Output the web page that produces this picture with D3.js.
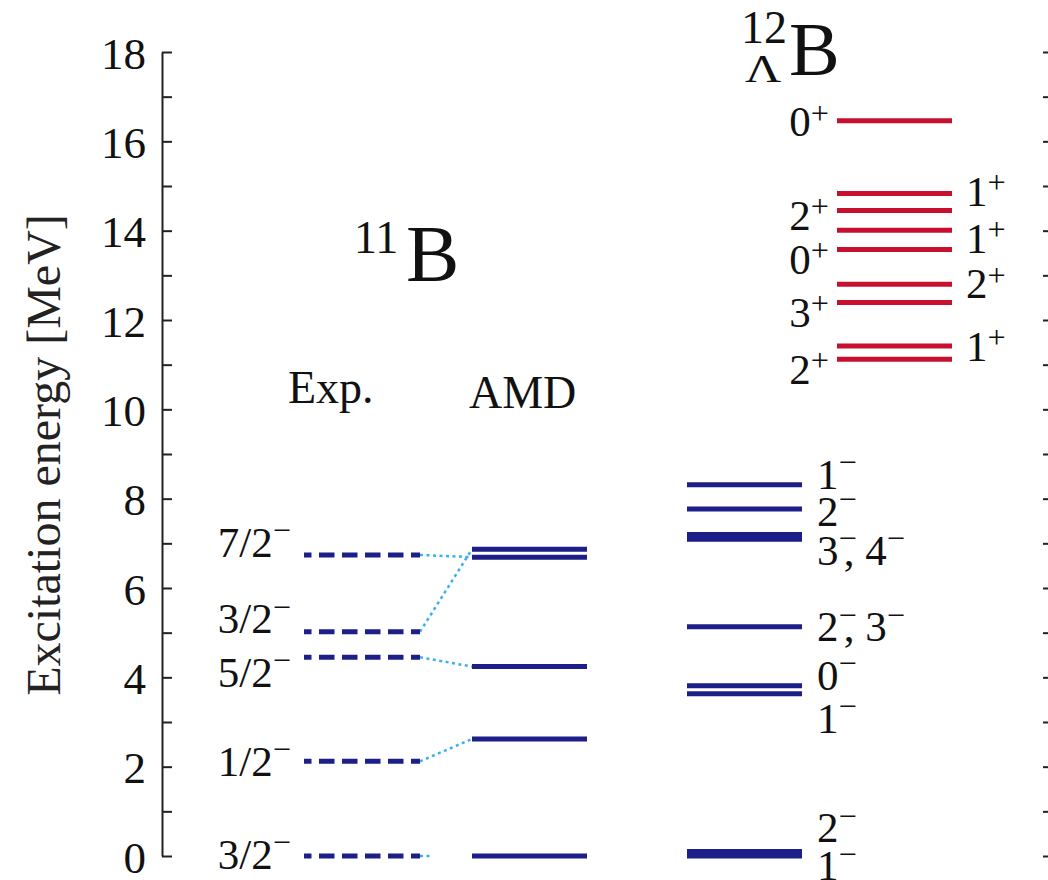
<!DOCTYPE html>
<html><head><meta charset="utf-8">
<script src="https://cdn.jsdelivr.net/npm/d3@7"></script>
<style>
html,body{margin:0;padding:0;background:#fff;}
svg{display:block;font-family:"Liberation Serif","Times New Roman",serif;}
</style></head><body>
<svg id="chart" width="1048" height="880"></svg>
<script>
// 11B experimental levels (MeV) and their spin-parity labels
const expEnergies = [0, 2.12, 4.45, 5.02, 6.74];
const expLabels = ["3/2^−", "1/2^−", "5/2^−", "3/2^−", "7/2^−"];
const expLabelEnergies = [0.04, 2.12, 4.12, 5.31, 7.03];

// 11B levels from AMD
const amdEnergies = [0, 2.62, 4.24, 6.69, 6.87];

// Exp -> AMD correspondences (null: no partner drawn)
const linkFrom = [0, 2.12, 4.45, 5.02, 6.74];
const linkTo = [null, 2.62, 4.24, 6.87, 6.69];

// 12ΛB negative-parity levels
const negEnergies = [0.0, 0.1, 3.63, 3.81, 5.13, 7.09, 7.20, 7.77, 8.31];
const negLabels = ["1^−", "2^−", "1^−", "0^−", "2^−, 3^−", "3^−, 4^−", "2^−", "1^−"];
const negLabelEnergies = [-0.22, 0.63, 3.09, 4.05, 5.13, 6.85, 7.72, 8.54];

// 12ΛB positive-parity levels
const posEnergies = [11.12, 11.42, 12.39, 12.80, 13.58, 14.01, 14.45, 14.83, 16.46];
const posLabelsLeft = ["2^+", "3^+", "0^+", "2^+", "0^+"];
const posLabelLeftEnergies = [10.90, 12.18, 13.36, 14.35, 16.44];
const posLabelsRight = ["1^+", "2^+", "1^+", "1^+"];
const posLabelRightEnergies = [11.42, 12.81, 13.83, 14.89];

// axis ticks
const majorTicks = [0, 2, 4, 6, 8, 10, 12, 14, 16, 18];
const minorTicks = [1, 3, 5, 7, 9, 11, 13, 15, 17];

const svg = d3.select("#chart");
const navy = "#1c1f87", red = "#c8102e", link = "#3cb0ef", ink = "#111";

const y = d3.scaleLinear().domain([0, 18]).range([856, 52]);

// column extents in px
const cols = { exp: [304, 420], amd: [472, 587], neg: [687, 802], pos: [837, 952] };

// ---- left axis ----
const axisG = svg.append("g").attr("transform", "translate(162,0)");
axisG.call(d3.axisLeft(y).tickValues(majorTicks).tickSize(-10).tickSizeOuter(0)
  .tickPadding(16).tickFormat(d3.format("d")));
axisG.append("g").call(d3.axisLeft(y).tickValues(minorTicks).tickSize(-10).tickSizeOuter(0).tickFormat(""))
  .select(".domain").remove();
axisG.selectAll("path.domain").attr("stroke", "#222").attr("stroke-width", 2);
axisG.selectAll(".tick line").attr("stroke", "#222").attr("stroke-width", 2);
axisG.selectAll(".tick text").attr("font-size", 45).attr("fill", ink)
  .attr("font-family", "'Liberation Serif', serif").attr("dy", "0.36em");

// ---- right frame ticks (mirror) ----
const rAxis = svg.append("g").attr("transform", "translate(1050,0)");
rAxis.call(d3.axisLeft(y).tickValues(majorTicks.concat(minorTicks)).tickSize(7).tickSizeOuter(0).tickFormat(""));
rAxis.selectAll(".tick line").attr("stroke", "#222").attr("stroke-width", 2);
rAxis.selectAll("path.domain").attr("stroke", "#222").attr("stroke-width", 2);

// axis title
svg.append("text")
  .attr("transform", "translate(60,455) rotate(-90)")
  .attr("text-anchor", "middle").attr("font-size", 48).attr("fill", "#222")
  .text("Excitation energy [MeV]");

// ---- label helper: "^x" marks a superscript character ----
function addLabel(parent, str, x, e, anchor, fs, color) {
  const t = parent.append("text")
    .attr("x", x).attr("y", y(e) + 0.34 * fs)
    .attr("text-anchor", anchor).attr("font-size", fs).attr("fill", color || ink);
  const parts = str.split(/(\^.)/).filter(s => s.length);
  let shift = 0, prevSup = false;
  parts.forEach(p => {
    if (p[0] === "^") {
      const ch = p[1];
      const r = ch === "+" ? 0.29 : 0.37;
      t.append("tspan").attr("font-size", fs * 0.75).attr("dy", -r * fs).text(ch);
      shift = r * fs; prevSup = true;
    } else {
      const ts = t.append("tspan").text(p);
      if (shift) ts.attr("dy", shift);
      if (prevSup && p[0] === ",") ts.attr("dx", -0.3 * fs);
      shift = 0; prevSup = false;
    }
  });
}

// ---- level drawing ----
function levels(data, col, color, dash) {
  const g = svg.append("g");
  g.selectAll("line").data(data).join("line")
    .attr("x1", cols[col][0]).attr("x2", cols[col][1])
    .attr("y1", d => y(d)).attr("y2", d => y(d))
    .attr("stroke", color).attr("stroke-width", 5)
    .attr("stroke-dasharray", dash || null)
    .attr("stroke-dashoffset", dash ? 8 : null);
  return g;
}

// connectors Exp -> AMD
const links = svg.append("g");
linkFrom.forEach((e0, i) => {
  const e1 = linkTo[i];
  links.append("line")
    .attr("x1", cols.exp[1]).attr("y1", y(e0))
    .attr("x2", e1 === null ? cols.exp[1] + 12 : cols.amd[0])
    .attr("y2", e1 === null ? y(e0) : y(e1))
    .attr("stroke", link).attr("stroke-width", 2.5)
    .attr("stroke-dasharray", "3,3.5");
});

levels(expEnergies, "exp", navy, "15.5,7.5");
levels(amdEnergies, "amd", navy);
levels(negEnergies, "neg", navy);
levels(posEnergies, "pos", red);

// level labels
const lab = svg.append("g");
expLabels.forEach((s, i) => addLabel(lab, s, 291, expLabelEnergies[i], "end", 43));
negLabels.forEach((s, i) => addLabel(lab, s, 817, negLabelEnergies[i], "start", 43));
posLabelsLeft.forEach((s, i) => addLabel(lab, s, 829, posLabelLeftEnergies[i], "end", 43));
posLabelsRight.forEach((s, i) => addLabel(lab, s, 966, posLabelRightEnergies[i], "start", 43));

// ---- titles ----
const titles = svg.append("g").attr("fill", ink);
titles.append("text").attr("x", 354).attr("y", 253).attr("font-size", 46).text("11");
titles.append("text").attr("x", 406).attr("y", 281).attr("font-size", 80).text("B");
titles.append("text").attr("x", 741).attr("y", 43).attr("font-size", 46).text("12");
titles.append("text").attr("x", 745).attr("y", 82).attr("font-size", 40)
  .attr("transform", "translate(745,82) scale(1.25,1) translate(-745,-82)").text("Λ");
titles.append("text").attr("x", 789).attr("y", 75).attr("font-size", 76).text("B");
titles.append("text").attr("x", 288).attr("y", 403).attr("font-size", 46).text("Exp.");
titles.append("text").attr("x", 469).attr("y", 408).attr("font-size", 46).text("AMD");
</script>
</body></html>
